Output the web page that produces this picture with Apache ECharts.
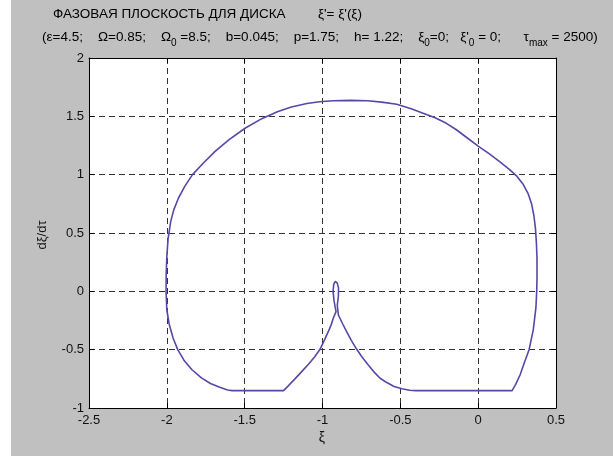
<!DOCTYPE html>
<html>
<head>
<meta charset="utf-8">
<script src="https://cdn.jsdelivr.net/npm/echarts@6/dist/echarts.min.js"></script>
<style>
  html, body { margin: 0; padding: 0; background: #fff; }
  #chart { width: 613px; height: 456px; }
</style>
</head>
<body>
<div id="chart"></div>
<script>
// Phase-plane trajectory of the disk: xi (displacement) vs d(xi)/d(tau).
// Order follows the motion: upper arc left to right, right-hand descent,
// lower flat, inner cusp with its small loop, left flat, back up the left side.
const xi = [
  -2.005, -2.004, -2.0, -1.992, -1.975, -1.955, -1.925, -1.885, -1.835, -1.765, -1.69, -1.60, -1.495, -1.39,
  -1.29, -1.20, -1.10, -1.02, -0.93, -0.82, -0.71, -0.62, -0.523, -0.43, -0.35, -0.28, -0.204,
  -0.14, -0.08, 0.0, 0.07, 0.14, 0.20, 0.25, 0.29, 0.32, 0.343, 0.358, 0.368, 0.374, 0.378, 0.378,
  0.376, 0.371, 0.354, 0.327, 0.30, 0.269, 0.24, 0.218,
  -0.40, -0.44, -0.49, -0.54, -0.59, -0.63, -0.67, -0.706, -0.745, -0.78, -0.815, -0.845, -0.87, -0.898,
  -0.905, -0.898, -0.897, -0.905, -0.918, -0.928, -0.932, -0.926, -0.918, -0.913,
  -0.931, -0.945, -0.963, -0.99, -1.016, -1.05, -1.09, -1.135, -1.18, -1.22, -1.25, -1.58,
  -1.61, -1.66, -1.72, -1.78, -1.84, -1.89, -1.93, -1.96, -1.985, -2.0, -2.005
];
const dxi = [
  0.0, 0.15, 0.30, 0.45, 0.60, 0.70, 0.80, 0.90, 1.00, 1.10, 1.20, 1.30, 1.40, 1.48,
  1.54, 1.58, 1.61, 1.625, 1.634, 1.637, 1.634, 1.622, 1.603, 1.565, 1.525, 1.49, 1.44,
  1.385, 1.325, 1.245, 1.18, 1.11, 1.045, 0.985, 0.915, 0.84, 0.75, 0.65, 0.54, 0.42, 0.28, 0.12,
  0.0, -0.14, -0.33, -0.50, -0.60, -0.717, -0.80, -0.851,
  -0.851, -0.848, -0.835, -0.815, -0.78, -0.745, -0.69, -0.631, -0.565, -0.497, -0.42, -0.346, -0.28, -0.203,
  -0.12, -0.04, 0.03, 0.07, 0.086, 0.06, 0.0, -0.08, -0.14, -0.174,
  -0.231, -0.29, -0.346, -0.425, -0.497, -0.56, -0.625, -0.69, -0.755, -0.81, -0.851, -0.851,
  -0.845, -0.823, -0.79, -0.74, -0.67, -0.59, -0.50, -0.40, -0.28, -0.16, 0.0
];

const xTicks = { min: -2.5, max: 0.5, step: 0.5 };
const yTicks = { min: -1, max: 2, step: 0.5 };

const titleLine1 = 'ФАЗОВАЯ ПЛОСКОСТЬ ДЛЯ ДИСКА';
const titleLine1b = "ξ'= ξ'(ξ)";
const paramText =
  '{n|(ε=4.5;    Ω=0.85;    Ω}{s|0}{n| =8.5;    b=0.045;    p=1.75;    h= 1.22;    ξ}{s|0}{n|=0;   ξ\'}{s|0}{n| = 0;      τ}{s|max}{n| = 2500)}';

const points = xi.map((x, i) => [x, dxi[i]]);

const FONT = '"Liberation Sans", Arial, sans-serif';
const chart = echarts.init(document.getElementById('chart'), null, { renderer: 'canvas' });

const gridLine = { show: true, lineStyle: { color: '#333', width: 1, type: [6, 4] } };
const boxLine = { show: true, onZero: false, lineStyle: { color: '#000', width: 1 } };
const tickIn = { show: true, inside: true, length: 5, lineStyle: { color: '#000' } };

chart.setOption({
  backgroundColor: 'transparent',
  animation: false,
  graphic: [
    { type: 'rect', z: -100, silent: true, shape: { x: 11, y: 0, width: 602, height: 456 }, style: { fill: '#c0c0c0' } },
    { type: 'text', left: 53, top: 7, style: { text: titleLine1, font: '13.5px ' + FONT, fill: '#000' } },
    { type: 'text', left: 318, top: 7, style: { text: titleLine1b, font: '13.5px ' + FONT, fill: '#000' } },
    {
      type: 'text', left: 42, top: 30,
      style: {
        text: paramText,
        rich: {
          n: { fontSize: 13.5, fontFamily: FONT, color: '#000', lineHeight: 22 },
          s: { fontSize: 10, fontFamily: FONT, color: '#000', lineHeight: 11, verticalAlign: 'bottom' }
        }
      }
    },
    { type: 'text', x: 42, y: 235, rotation: Math.PI / 2,
      style: { text: 'dξ/dτ', font: '13px ' + FONT, fill: '#111', align: 'center', verticalAlign: 'middle' } },
    { type: 'text', x: 322, y: 438,
      style: { text: 'ξ', font: '14px ' + FONT, fill: '#111', align: 'center', verticalAlign: 'middle' } }
  ],
  grid: { left: 89, top: 58, width: 467, height: 350, show: true, backgroundColor: '#fff', borderWidth: 0 },
  xAxis: [
    {
      type: 'value', min: xTicks.min, max: xTicks.max, interval: xTicks.step,
      axisLine: boxLine, axisTick: tickIn, splitLine: gridLine,
      axisLabel: { color: '#111', fontSize: 13, fontFamily: FONT, margin: 6 }
    },
    {
      type: 'value', position: 'top', min: xTicks.min, max: xTicks.max, interval: xTicks.step,
      axisLine: boxLine, axisTick: tickIn, splitLine: { show: false }, axisLabel: { show: false }
    }
  ],
  yAxis: [
    {
      type: 'value', min: yTicks.min, max: yTicks.max, interval: yTicks.step,
      axisLine: boxLine, axisTick: tickIn, splitLine: gridLine,
      axisLabel: { color: '#111', fontSize: 13, fontFamily: FONT, margin: 5 }
    },
    {
      type: 'value', position: 'right', min: yTicks.min, max: yTicks.max, interval: yTicks.step,
      axisLine: boxLine, axisTick: tickIn, splitLine: { show: false }, axisLabel: { show: false }
    }
  ],
  series: [{
    type: 'line', data: points, showSymbol: false, smooth: false,
    lineStyle: { color: '#5a46a6', width: 1.6 }, z: 5
  }]
});
</script>
</body>
</html>
